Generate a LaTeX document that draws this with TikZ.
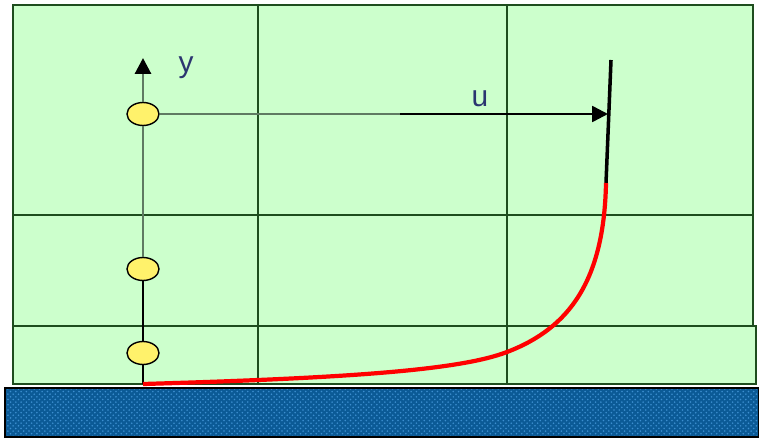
\documentclass[tikz,border=0pt]{standalone}
\usepackage{fontspec}
\setmainfont{Liberation Sans}
\usetikzlibrary{arrows.meta,patterns,shapes.geometric}
\definecolor{cellgreen}{HTML}{CCFFCC}
\definecolor{gridgreen}{HTML}{1E4D1E}
\definecolor{wallblue}{HTML}{0B5A96}
\definecolor{dotblue}{HTML}{3C8ECF}
\definecolor{labelblue}{HTML}{2B3570}
\definecolor{pointyellow}{HTML}{FFF26B}
\definecolor{axisgray}{HTML}{5F7A62}
\begin{document}
\begin{tikzpicture}[x=0.02cm,y=-0.02cm,
    cell/.style={draw=gridgreen,line width=1.1pt},
    point/.style={ellipse,draw=black,fill=pointyellow,line width=0.8pt,
      minimum width=0.64cm,minimum height=0.46cm,inner sep=0pt},
    label/.style={text=labelblue,font=\fontsize{17}{20}\selectfont,inner sep=0pt}]
  \useasboundingbox (0,0) rectangle (759,439);
  % wall
  \fill[wallblue] (5,388) rectangle (759,437);
  \fill[pattern=crosshatch dots,pattern color=dotblue] (5,388) rectangle (759,437);
  \draw[black,line width=0.8pt] (5,388) rectangle (759,437);
  % cells
  \fill[cellgreen] (13,5) rectangle (753,326);
  \fill[cellgreen] (13,326) rectangle (756,384);
  \draw[cell] (13,5) rectangle (753,326);
  \draw[cell] (13,326) rectangle (756,384);
  \draw[cell] (13,215) -- (753,215);
  \foreach \x in {258,507}
    \draw[cell] (\x,5) -- (\x,384);
  % nodes
  \coordinate (base) at (143,384);
  \coordinate (ytip) at (143,58);
  \coordinate (ptop) at (611,60);
  \coordinate (pbend) at (606,183);
  \coordinate (umid) at (400,114);
  \coordinate (utip) at (608,114);
  \node[point] (p1) at (143,114) {};
  \node[point] (p2) at (143,269) {};
  \node[point] (p3) at (143,353) {};
  \node[label] (ylab) at (186,68) {y};
  \node[label] (ulab) at (480,99) {u};
  % axis
  \draw[black,line width=1.4pt] (base) -- (p3) -- (p2);
  \draw[axisgray,line width=1.7pt] (p2) -- (p1);
  \draw[axisgray,line width=1.7pt,-{Triangle[black,length=9pt,width=9pt]}] (p1) -- (ytip);
  % velocity
  \draw[axisgray,line width=1.4pt] (p1) -- (umid);
  \draw[black,line width=1.4pt,-{Triangle[length=9pt,width=9pt]}] (umid) -- (utip);
  % profile
  \draw[black,line width=2pt] (ptop) -- (pbend);
  \draw[red,line width=2.4pt] (base) .. controls (350,378) and (460,370) .. (507,352)
    .. controls (570,328) and (604,280) .. (pbend);
\end{tikzpicture}
\end{document}
